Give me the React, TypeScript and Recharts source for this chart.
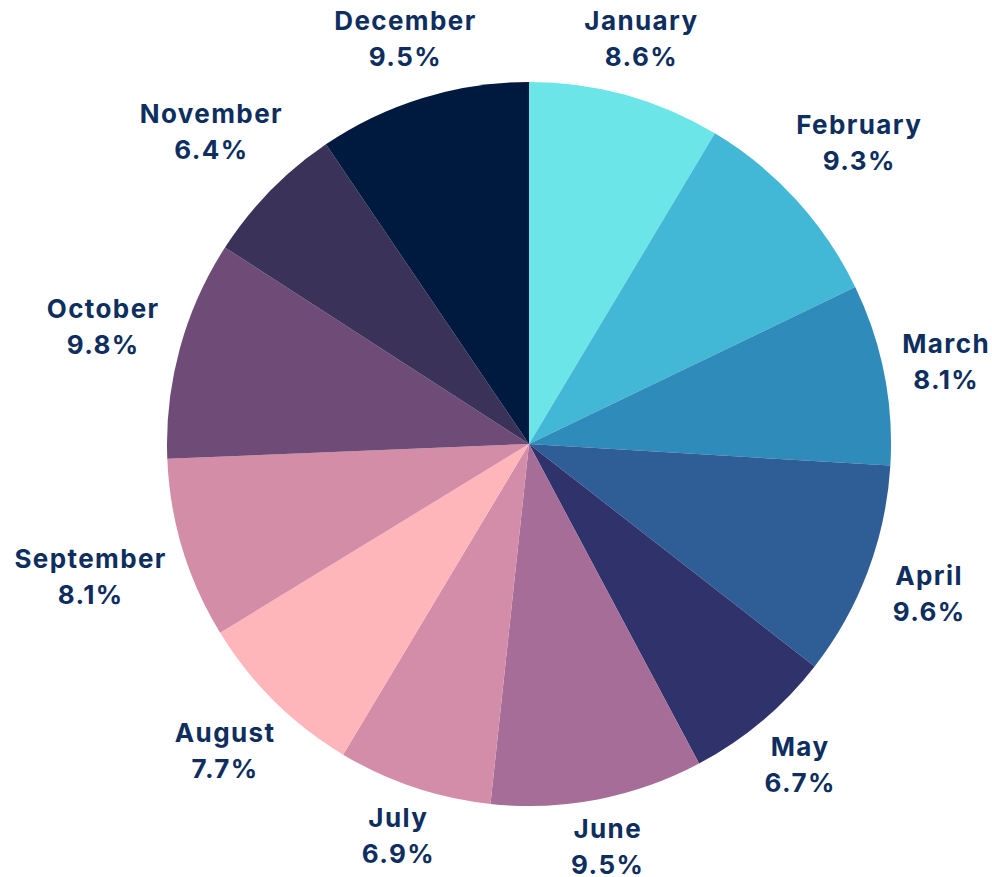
import { PieChart, Pie, Cell } from "recharts";

const MONTHS = [
  "January", "February", "March", "April", "May", "June",
  "July", "August", "September", "October", "November", "December",
];
const SHARES = [8.6, 9.3, 8.1, 9.6, 6.7, 9.5, 6.9, 7.7, 8.1, 9.8, 6.4, 9.5];
const COLORS = [
  "#6BE5E8", "#43B7D6", "#2E8BBA", "#2F5E96", "#30336B", "#A56D97",
  "#D48DA8", "#FEB6BB", "#D38DA7", "#6E4C77", "#3B3259", "#001A3F",
];

const data = MONTHS.map((name, i) => ({ name, value: SHARES[i] }));

const RADIAN = Math.PI / 180;
const FONT = 26;
const LINE = 36;
const CAP = 19;
const GAP = 15;

function renderLabel(props: any) {
  const { cx, cy, midAngle, outerRadius, name, value } = props;
  const pct = `${Number(value).toFixed(1)}%`;
  const chars = Math.max(name.length, pct.length);
  const halfW = (chars * FONT * 0.66) / 2;
  const halfH = (LINE + CAP) / 2;
  const c = Math.cos(-midAngle * RADIAN);
  const s = Math.sin(-midAngle * RADIAN);
  const r = outerRadius + GAP + halfW * Math.abs(c) + halfH * Math.abs(s);
  const x = cx + r * c;
  const y = cy + r * s;
  const b1 = y - (LINE - CAP) / 2 - 1;
  return (
    <text
      x={x}
      y={b1}
      textAnchor="middle"
      fill="#0D2E5E"
      fontFamily="Inter, sans-serif"
      fontWeight={700}
      fontSize={FONT}
      letterSpacing={1.4}
    >
      <tspan x={x + 0.7} y={b1}>{name}</tspan>
      <tspan x={x + 0.7} y={b1 + LINE}>{pct}</tspan>
    </text>
  );
}

export default function App() {
  return (
    <div style={{ position: "absolute", left: 0, top: 0, background: "#fff" }}>
      <PieChart width={992} height={877} margin={{ top: 0, right: 0, bottom: 0, left: 0 }}>
        <Pie
          data={data}
          dataKey="value"
          nameKey="name"
          cx={529}
          cy={444}
          outerRadius={362}
          startAngle={90}
          endAngle={-270}
          stroke="none"
          labelLine={false}
          label={renderLabel}
          isAnimationActive={false}
        >
          {data.map((entry, i) => (
            <Cell key={entry.name} fill={COLORS[i]} />
          ))}
        </Pie>
      </PieChart>
    </div>
  );
}
